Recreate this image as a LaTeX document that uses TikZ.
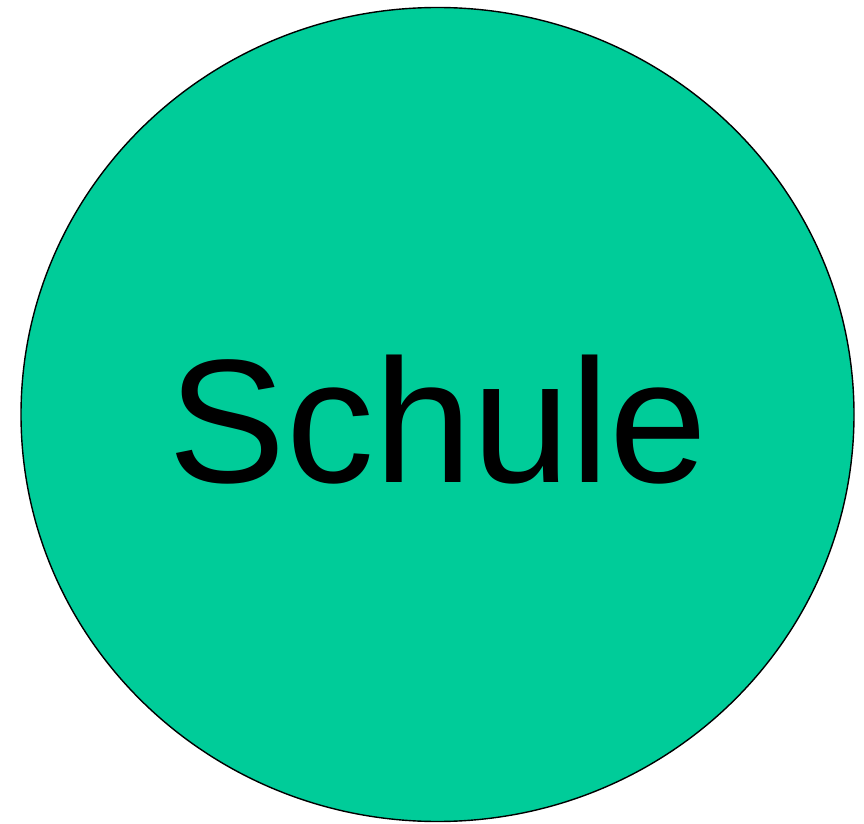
\documentclass[tikz,border=0pt]{standalone}
\usepackage{fontspec}
\setmainfont{Liberation Sans}
\usetikzlibrary{shapes.geometric}
\definecolor{schulegreen}{RGB}{0,204,153}
\tikzset{
  bubble/.style={ellipse, draw=black, line width=1.4pt, fill=schulegreen, inner sep=0pt},
  bigtext/.style={font=\fontsize{176}{176}\selectfont, text=black, inner sep=0pt, anchor=base}
}
\begin{document}
\begin{tikzpicture}[x=1pt,y=1pt]
\useasboundingbox (0,0) rectangle (864,823);
\node[bubble, minimum width=833pt, minimum height=814pt] (circle) at (437.5,408.5) {};
\node[bigtext] (label) at (438,341) {Schule};
\end{tikzpicture}
\end{document}
